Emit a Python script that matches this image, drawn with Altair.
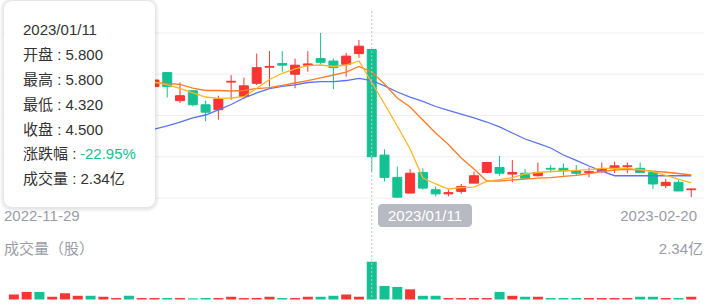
import altair as alt
import pandas as pd

# ---------------- data ----------------
dates = [
    "2022-11-29", "2022-11-30", "2022-12-01", "2022-12-02", "2022-12-05", "2022-12-06",
    "2022-12-07", "2022-12-08", "2022-12-09", "2022-12-12", "2022-12-13", "2022-12-14",
    "2022-12-15", "2022-12-16", "2022-12-19", "2022-12-20", "2022-12-21", "2022-12-22",
    "2022-12-23", "2022-12-28", "2022-12-29", "2022-12-30", "2023-01-03", "2023-01-04",
    "2023-01-05", "2023-01-06", "2023-01-09", "2023-01-10", "2023-01-11", "2023-01-12",
    "2023-01-13", "2023-01-16", "2023-01-17", "2023-01-18", "2023-01-19", "2023-01-20",
    "2023-01-28", "2023-01-29", "2023-01-30", "2023-01-31", "2023-02-01", "2023-02-02",
    "2023-02-03", "2023-02-06", "2023-02-07", "2023-02-08", "2023-02-09", "2023-02-10",
    "2023-02-13", "2023-02-14", "2023-02-15", "2023-02-16", "2023-02-17", "2023-02-20",
]
opens = [4.62, 4.98, 5.50, 5.35, 5.40, 5.52, 5.55, 5.40, 5.42, 5.44, 5.34, 5.35,
         5.52, 5.18, 5.30, 5.13, 5.07, 5.405, 5.23, 5.39, 5.585, 5.63, 5.50, 5.61,
         5.69, 5.66, 5.62, 5.75, 5.80, 4.52, 4.25, 4.06, 4.31, 4.10, 4.05, 4.08,
         4.18, 4.31, 4.37, 4.29, 4.30, 4.27, 4.36, 4.36, 4.33, 4.31, 4.32, 4.355,
         4.38, 4.36, 4.31, 4.15, 4.19, 4.10]
highs = [4.98, 5.45, 5.62, 5.50, 5.60, 5.60, 5.58, 5.46, 5.46, 5.46, 5.48, 5.45,
         5.52, 5.40, 5.30, 5.18, 5.24, 5.49, 5.46, 5.75, 5.78, 5.78, 5.69, 5.78,
         6.00, 5.69, 5.76, 5.915, 5.80, 4.59, 4.38, 4.35, 4.36, 4.14, 4.10, 4.17,
         4.32, 4.43, 4.51, 4.46, 4.35, 4.43, 4.40, 4.42, 4.40, 4.37, 4.43, 4.44,
         4.43, 4.43, 4.31, 4.23, 4.22, 4.11]
lows = [4.60, 4.95, 5.30, 5.30, 5.38, 5.45, 5.38, 5.35, 5.38, 5.33, 5.32, 5.30,
        5.22, 5.15, 5.11, 4.93, 4.95, 5.19, 5.20, 5.37, 5.35, 5.53, 5.33, 5.53,
        5.62, 5.32, 5.47, 5.70, 4.32, 4.20, 4.00, 4.06, 4.10, 4.02, 4.02, 4.05,
        4.18, 4.31, 4.27, 4.19, 4.24, 4.26, 4.31, 4.27, 4.27, 4.25, 4.30, 4.30,
        4.30, 4.31, 4.11, 4.12, 4.085, 4.01]
closes = [4.95, 5.45, 5.36, 5.42, 5.55, 5.56, 5.40, 5.43, 5.44, 5.35, 5.43, 5.43,
          5.35, 5.24, 5.13, 5.04, 5.20, 5.415, 5.36, 5.58, 5.595, 5.61, 5.61, 5.625,
          5.645, 5.58, 5.72, 5.84, 4.50, 4.25, 4.01, 4.30, 4.12, 4.05, 4.065, 4.14,
          4.27, 4.43, 4.30, 4.31, 4.24, 4.31, 4.35, 4.33, 4.30, 4.32, 4.35, 4.39,
          4.39, 4.31, 4.17, 4.19, 4.085, 4.11]
volumes = [0.31, 0.47, 0.47, 0.17, 0.39, 0.23, 0.23, 0.17, 0.09, 0.23, 0.09, 0.09,
           0.09, 0.09, 0.07, 0.09, 0.09, 0.17, 0.09, 0.09, 0.17, 0.09, 0.09, 0.17,
           0.17, 0.23, 0.31, 0.17, 2.34, 0.84, 0.78, 0.63, 0.23, 0.23, 0.09, 0.09,
           0.09, 0.09, 0.47, 0.23, 0.17, 0.17, 0.09, 0.09, 0.09, 0.09, 0.09, 0.09,
           0.09, 0.17, 0.17, 0.09, 0.09, 0.17]  # 亿股
ma5 = [4.62, 4.85, 5.02, 5.18, 5.35, 5.47, 5.46, 5.47, 5.47, 5.44, 5.42, 5.406,
       5.370, 5.330, 5.273, 5.224, 5.208, 5.212, 5.228, 5.330, 5.436, 5.512, 5.564, 5.604,
       5.612, 5.594, 5.612, 5.661, 5.400, 5.139, 4.873, 4.594, 4.242, 4.170, 4.109, 4.127,
       4.133, 4.200, 4.224, 4.248, 4.291, 4.309, 4.321, 4.327, 4.336, 4.345, 4.358, 4.360,
       4.358, 4.345, 4.321, 4.273, 4.230, 4.182]
ma10 = [4.55, 4.68, 4.82, 4.95, 5.08, 5.20, 5.27, 5.33, 5.37, 5.39, 5.40, 5.394,
        5.388, 5.378, 5.333, 5.303, 5.303, 5.297, 5.303, 5.327, 5.339, 5.364, 5.394, 5.424,
        5.455, 5.491, 5.527, 5.594, 5.527, 5.382, 5.212, 5.103, 4.945, 4.788, 4.648, 4.485,
        4.352, 4.206, 4.206, 4.218, 4.230, 4.242, 4.248, 4.261, 4.273, 4.297, 4.321, 4.339,
        4.348, 4.342, 4.327, 4.312, 4.297, 4.279]
ma20 = [4.42, 4.45, 4.48, 4.52, 4.56, 4.60, 4.64, 4.68, 4.72, 4.76, 4.80, 4.836,
        4.873, 4.921, 4.970, 5.006, 5.067, 5.133, 5.212, 5.273, 5.327, 5.352, 5.370, 5.400,
        5.410, 5.410, 5.424, 5.451, 5.424, 5.358, 5.285, 5.224, 5.170, 5.109, 5.061, 5.018,
        4.970, 4.921, 4.861, 4.788, 4.715, 4.661, 4.606, 4.521, 4.455, 4.388, 4.327, 4.270,
        4.270, 4.270, 4.270, 4.270, 4.270, 4.270]
grid_prices = [6.0, 5.5, 5.0, 4.5, 4.0]
sel = 28  # highlighted day
tip_names = ["开盘", "最高", "最低", "收盘", "涨跌幅", "成交量"]
vol_title = "成交量（股）"

# ---------------- styles ----------------
RED = "#FA3534"
GREEN = "#14C193"
C_MA5 = "#FFB524"
C_MA10 = "#FF7C26"
C_MA20 = "#5A74F0"
AX = "#9A9CA8"
TXT = "#333333"
FONT = "Liberation Sans, Arial, Noto Sans CJK SC, sans-serif"
W, H = 717, 306

n = len(dates)
df = pd.DataFrame({
    "idx": list(range(n)), "date": dates, "open": opens, "high": highs,
    "low": lows, "close": closes, "vol": volumes,
    "ma5": ma5, "ma10": ma10, "ma20": ma20,
})
df["dir"] = ["up" if c >= o else "down" for o, c in zip(opens, closes)]

xs = alt.X("idx:Q", scale=alt.Scale(domain=[-0.6943, 54.622], nice=False, zero=False), axis=None)
pscale = alt.Scale(domain=[2.6909, 6.4], nice=False, zero=False)
vscale = alt.Scale(domain=[-0.4025, 18.545], nice=False, zero=False)
col = alt.Color("dir:N", scale=alt.Scale(domain=["up", "down"], range=[RED, GREEN]), legend=None)

base = alt.Chart(df)
one = alt.Chart(pd.DataFrame({"a": [0]}))

grid = alt.Chart(pd.DataFrame({"p": grid_prices})).mark_rule(color="#EFEFEF", strokeWidth=1.2).encode(
    x=alt.value(3), x2=alt.value(704), y=alt.Y("p:Q", scale=pscale, axis=None))

wicks = base.mark_rule(strokeWidth=1).encode(
    x=xs, y=alt.Y("low:Q", scale=pscale, axis=None), y2="high:Q", color=col)
bodies = base.mark_bar(size=9, strokeWidth=1).encode(
    x=xs, y=alt.Y("open:Q", scale=pscale, axis=None), y2="close:Q", color=col, stroke=col)

def ma_line(field, color):
    return base.mark_line(strokeWidth=1.3, color=color).encode(
        x=xs, y=alt.Y(f"{field}:Q", scale=pscale, axis=None))

vols = base.mark_bar(size=10).encode(
    x=xs, y=alt.Y("vol:Q", scale=vscale, axis=None), y2=alt.datum(0), color=col)

cross = alt.Chart(df[df.idx == sel]).mark_rule(color="#C4C4C4", strokeWidth=1, strokeDash=[2, 2]).encode(
    x=xs, y=alt.value(11), y2=alt.value(300))

def txt(s, x, y, color, align="left", size=15):
    return one.mark_text(text=s, align=align, baseline="middle", fontSize=size, font=FONT, color=color).encode(
        x=alt.value(x), y=alt.value(y))

def box(x1, x2, y1, y2, fill, r, op=1.0):
    return one.mark_rect(fill=fill, cornerRadius=r, opacity=op).encode(
        x=alt.value(x1), x2=alt.value(x2), y=alt.value(y1), y2=alt.value(y2))

# bottom labels
labels = [
    txt(dates[0], 4, 216, AX),
    txt(dates[-1], 697, 216, AX, align="right"),
    txt(vol_title, 4, 249, AX),
    txt(f"{max(volumes):.2f}亿", 703, 249, AX, align="right"),
]

# date badge
badge = [box(378, 472, 204, 227, "#B8BAC3", 4), txt(dates[sel].replace("-", "/"), 425, 216, "#FFFFFF", align="center")]

# tooltip
chg = (closes[sel] / closes[sel - 1] - 1) * 100
vals = [f"{opens[sel]:.3f}", f"{highs[sel]:.3f}", f"{lows[sel]:.3f}", f"{closes[sel]:.3f}",
        f"{chg:.2f}%", f"{volumes[sel]:.2f}亿"]
tip = [box(4 - k, 155 + k, 1 - k, 207 + k + 1, "#000000", 8 + k, 0.025) for k in (4, 3, 2, 1)]
tip.append(box(4, 155, 1, 207, "#FFFFFF", 8))
tip.append(txt(dates[sel].replace("-", "/"), 23, 30, TXT))
rows_y = [55, 80, 104.5, 129.5, 154, 179]
for name, v, yy in zip(tip_names, vals, rows_y):
    if name == "涨跌幅":
        tip.append(txt(f"{name} : ", 23, yy, TXT))
        tip.append(txt(v, 80, yy, GREEN if chg < 0 else RED))
    else:
        tip.append(txt(f"{name} : {v}", 23, yy, TXT))

chart = alt.layer(
    grid, wicks, bodies, ma_line("ma20", C_MA20), ma_line("ma10", C_MA10), ma_line("ma5", C_MA5),
    vols, cross, *labels, *badge, *tip
).resolve_scale(y="independent").properties(
    width=W, height=H, padding=0, autosize=alt.AutoSizeParams(type="none"), background="#FFFFFF"
).configure_view(stroke=None)

chart.save("out.html", embed_options={"renderer": "svg", "actions": False})
